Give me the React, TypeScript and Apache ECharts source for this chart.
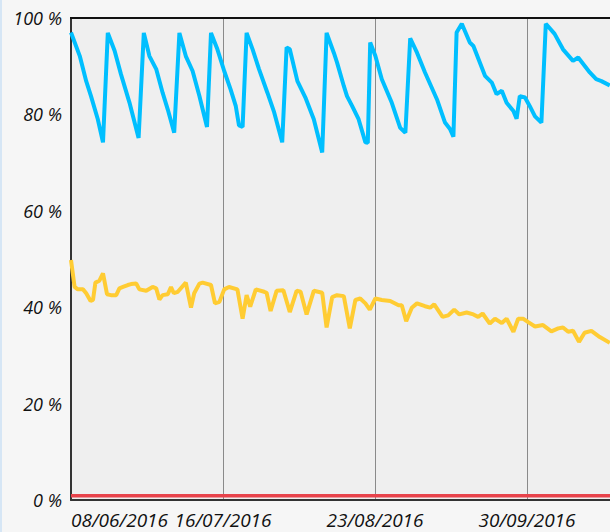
import React, { useEffect, useRef } from "react";
import * as echarts from "echarts";

// x values are days since 08/06/2016
const tickLabels = ["08/06/2016", "16/07/2016", "23/08/2016", "30/09/2016"];
const tickStepDays = 38;
const yTickLabels = ["0 %", "20 %", "40 %", "60 %", "80 %", "100 %"];

const blueDays = [
  0, 2.2, 3.8, 5, 6.7, 8, 9.2, 10.9, 12.5, 14.6, 16.9, 18.2, 19.6, 21.3, 22.9, 24.2, 25.8,
  27.1, 28.7, 30.4, 32.1, 34, 35, 36.6, 38.3, 39.9, 41.2, 42, 42.9, 43.9, 45.4, 47, 49.1,
  50.8, 52.8, 53.9, 54.7, 56.6, 58.6, 60.7, 62.8, 63.9, 65.7, 66.5, 68.2, 69, 70.3, 71.9,
  73.6, 74.2, 74.8, 76.1, 77.7, 80.2, 82.3, 83.6, 84.8, 86.5, 88.5, 91.5, 93.5, 94.8, 95.6,
  96.4, 97.7, 99.7, 100.6, 103.5, 105.2, 106.4, 107.7, 108.9, 110.6, 111.4, 112.2, 113.5,
  114.7, 116, 117.6, 118.7, 120.9, 123, 125.5, 126.8, 129.7, 131.3, 132.6, 134.7,
];
const blueValues = [
  97, 92.1, 86.9, 83.8, 79, 74.2, 96.9, 93.2, 88.3, 82.5, 75.1, 96.9, 92.1, 89.4, 84.5, 81,
  76.2, 96.9, 92.1, 89, 83.8, 77.4, 96.9, 93.5, 89, 85.2, 81.7, 77.7, 77.4, 96.9, 93.5, 89.4,
  84.5, 80.4, 74.2, 93.9, 93.5, 86.9, 83.5, 79, 72.1, 96.9, 92.8, 90.8, 85.9, 83.8, 81.7, 79,
  74.2, 74.1, 94.9, 92.1, 87.3, 82.4, 77.2, 76.2, 95.8, 92.8, 88.7, 83.1, 78.3, 76.9, 75.4,
  97, 98.8, 94.9, 94.2, 88, 86.6, 84.2, 84.9, 82.4, 80.7, 79.1, 83.8, 83.5, 81.7, 79.6, 78.3,
  98.8, 96.7, 93.5, 91.1, 91.8, 88.7, 87.3, 86.9, 86,
];

const yellowDays = [
  0, 0.9, 1.7, 3, 3.8, 4.9, 5.5, 6.1, 7.1, 8, 9, 10, 11.3, 12.1, 13, 14.2, 15, 16.3, 17.1,
  18.8, 20.4, 21.3, 22.1, 22.9, 24.2, 25, 25.7, 26.7, 28.7, 30, 30.8, 32.1, 32.9, 35, 36,
  37.1, 38.3, 39.5, 41.6, 42.9, 43.9, 44.8, 46.2, 48.3, 48.9, 49.9, 51.4, 53.1, 54.7, 56.4,
  57.4, 58.9, 60.7, 62.8, 63.9, 65.3, 66.5, 68.2, 69.7, 71.1, 72.3, 73.6, 74.7, 76.1, 77.7,
  79.8, 81.9, 82.7, 83.8, 85.2, 86.5, 88.5, 89.8, 90.8, 92.9, 94.3, 95.8, 97.1, 98.9, 100.6,
  101.8, 102.9, 104.7, 106, 107.7, 108.9, 110.6, 111.8, 113.1, 114.3, 116, 118, 120.1, 121.8,
  123, 124.3, 125.5, 127, 128.4, 130.1, 132.2, 134.7,
];
const yellowValues = [
  49.8, 44.2, 43.7, 43.7, 42.9, 41.3, 41.5, 45.1, 45.5, 47, 42.7, 42.5, 42.5, 43.9, 44.2,
  44.6, 44.8, 44.9, 43.7, 43.4, 44.2, 43.9, 41.6, 42.5, 42.7, 44.2, 42.9, 43.2, 45.1, 39.9,
  42.9, 44.9, 45.1, 44.6, 40.8, 41.1, 43.7, 44.2, 43.7, 37.6, 42.5, 40.1, 43.7, 43.2, 43,
  39.2, 43.4, 43.5, 39, 43.4, 43.2, 38.5, 43.4, 43, 35.8, 42.1, 42.5, 42.3, 35.6, 41.5, 41.8,
  40.8, 39.5, 41.8, 41.5, 41.3, 40.4, 40.4, 37.1, 39.9, 40.8, 40.2, 39.9, 40.6, 38, 38.3,
  39.5, 38.5, 38.9, 38.5, 38, 38.7, 36.6, 37.6, 36.7, 37.6, 34.9, 37.6, 37.6, 36.9, 36, 36.3,
  35, 35.6, 35.8, 34.9, 35.1, 32.8, 34.7, 35.1, 33.8, 32.6,
];

const redDays = [0, 134.75];
const redValues = [0.9, 0.9];

const zip = (xs: number[], ys: number[]) => xs.map((x, i) => [x, ys[i]]);

export default function App() {
  const ref = useRef<HTMLDivElement>(null);
  useEffect(() => {
    const chart = echarts.init(ref.current!, null, { renderer: "svg" });
    const font = "'Open Sans', 'Noto Sans', sans-serif";
    chart.setOption({
      animation: false,
      backgroundColor: "#f6f6f6",
      graphic: [
        { type: "rect", shape: { x: 0, y: 0, width: 2, height: 532 }, style: { fill: "#d6e6f5" } },
        {
          type: "line",
          shape: { x1: 70, y1: 18, x2: 610, y2: 18 },
          style: { stroke: "#111", lineWidth: 2 },
          z: 10,
        },
      ],
      grid: {
        left: 71,
        right: 0,
        top: 18,
        bottom: 32,
        show: true,
        backgroundColor: "#efefef",
        borderWidth: 0,
      },
      xAxis: {
        type: "value",
        min: 0,
        max: 134.75,
        interval: tickStepDays,
        axisLine: { show: true, onZero: false, lineStyle: { color: "#333", width: 2 } },
        axisTick: { show: false },
        splitLine: { show: true, lineStyle: { color: "#8a8a8a", width: 1 } },
        axisLabel: {
          showMaxLabel: false,
          alignMinLabel: "left",
          fontFamily: font,
          fontStyle: "italic",
          fontSize: 19,
          color: "#111",
          margin: 10,
          formatter: (v: number) => tickLabels[Math.round(v / tickStepDays)] ?? "",
        },
      },
      yAxis: {
        type: "value",
        min: 0,
        max: 100,
        interval: 20,
        axisLine: { show: true, lineStyle: { color: "#333", width: 2 } },
        axisTick: { show: false },
        splitLine: { show: false },
        axisLabel: {
          fontFamily: font,
          fontStyle: "italic",
          fontSize: 18,
          color: "#111",
          margin: 9,
          formatter: (v: number) => yTickLabels[Math.round(v / 20)] ?? "",
        },
      },
      series: [
        {
          type: "line",
          data: zip(redDays, redValues),
          showSymbol: false,
          lineStyle: { color: "#e8434b", width: 3.5 },
          z: 3,
        },
        {
          type: "line",
          data: zip(yellowDays, yellowValues),
          showSymbol: false,
          lineStyle: { color: "#ffcc33", width: 4 },
          z: 4,
        },
        {
          type: "line",
          data: zip(blueDays, blueValues),
          showSymbol: false,
          lineStyle: { color: "#00bfff", width: 4 },
          z: 5,
        },
      ],
    });
    return () => chart.dispose();
  }, []);
  return (
    <div
      ref={ref}
      style={{ position: "fixed", left: 0, top: 0, width: 610, height: 532 }}
    />
  );
}
